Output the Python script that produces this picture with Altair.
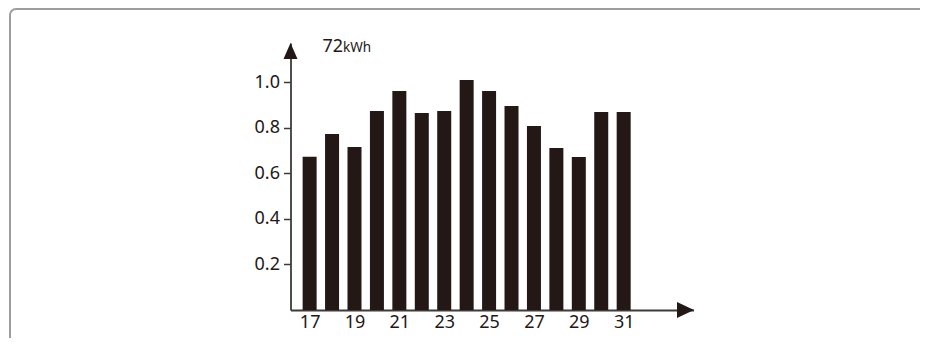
import altair as alt
import pandas as pd

days = [17, 18, 19, 20, 21, 22, 23, 24, 25, 26, 27, 28, 29, 30, 31]
values = [0.673, 0.773, 0.716, 0.874, 0.962, 0.865, 0.874, 1.010, 0.962, 0.896, 0.808, 0.711, 0.672, 0.870, 0.870]
y_ticks = [0.2, 0.4, 0.6, 0.8, 1.0]
x_ticks = [17, 19, 21, 23, 25, 27, 29, 31]
total_value = "72"
unit = "kWh"

INK = "#231815"
AXIS = "#3e3a39"
FRAME = "#9d9d9d"
FONT = "Noto Sans"

df = pd.DataFrame({"day": days, "value": values})
one = pd.DataFrame({"a": [0]})

W, H = 403, 267
PAD_L, PAD_T, PAD_R, PAD_B = 282.5, 35, 226.5, 28
FL, FT, R = -280.5, -34, 6  # frame left / top (relative to plot), corner radius

bars = alt.Chart(df).mark_bar(color=INK, size=14).encode(
    x=alt.X("day:Q",
            scale=alt.Scale(domain=[16.37, 33.89], nice=False, zero=False),
            axis=alt.Axis(values=x_ticks, ticks=False, grid=False, title=None,
                          labelFont=FONT, labelFontSize=18, labelColor=INK,
                          labelPadding=3, domainColor=AXIS, domainWidth=1.8,
                          labelFlush=False, labelOverlap=False)),
    y=alt.Y("value:Q",
            scale=alt.Scale(domain=[0, 1.1726], nice=False),
            axis=alt.Axis(values=y_ticks, format=".1f", grid=False, title=None,
                          tickSize=7, tickColor=AXIS, tickWidth=1.5,
                          labelFont=FONT, labelFontSize=18, labelColor=INK,
                          labelPadding=4, domainColor=AXIS, domainWidth=1.8,
                          labelOverlap=False)),
)

frame_top = alt.Chart(one).mark_rule(color=FRAME, strokeWidth=2).encode(
    x=alt.value(FL + R), x2=alt.value(W + PAD_R), y=alt.value(FT))
frame_left = alt.Chart(one).mark_rule(color=FRAME, strokeWidth=2).encode(
    x=alt.value(FL), y=alt.value(FT + R), y2=alt.value(H + PAD_B))
frame_corner = alt.Chart(one).mark_arc(color=FRAME, radius=R + 1, radius2=R - 1).encode(
    x=alt.value(FL + R), y=alt.value(FT + R),
    theta=alt.value(4.7124), theta2=alt.value(6.2832))

up_arrow = alt.Chart(one).mark_point(
    shape="M0,-1L0.875,1L-0.875,1Z", size=256, filled=True, fill=INK, opacity=1, strokeWidth=0
).encode(x=alt.value(0), y=alt.value(8))

right_arrow = alt.Chart(one).mark_point(
    shape="M1,0L-1,-0.94L-1,0.94Z", size=289, filled=True, fill=INK, opacity=1, strokeWidth=0
).encode(x=alt.value(395), y=alt.value(H))

title_num = alt.Chart(one).mark_text(
    text=total_value, font=FONT, fontSize=18, color=INK, align="left", baseline="alphabetic"
).encode(x=alt.value(32), y=alt.value(9))

title_unit = alt.Chart(one).mark_text(
    text=unit, font=FONT, fontSize=13.5, color=INK, align="left", baseline="alphabetic"
).encode(x=alt.value(52.5), y=alt.value(9))

chart = alt.layer(frame_top, frame_left, frame_corner, bars, up_arrow, right_arrow,
                  title_num, title_unit).properties(
    width=W, height=H,
    autosize=alt.AutoSizeParams(type="none"),
    padding={"left": PAD_L, "top": PAD_T, "right": PAD_R, "bottom": PAD_B},
    background="white",
).configure_view(stroke=None)

chart.save("out.html", embed_options={"renderer": "svg", "actions": False})
